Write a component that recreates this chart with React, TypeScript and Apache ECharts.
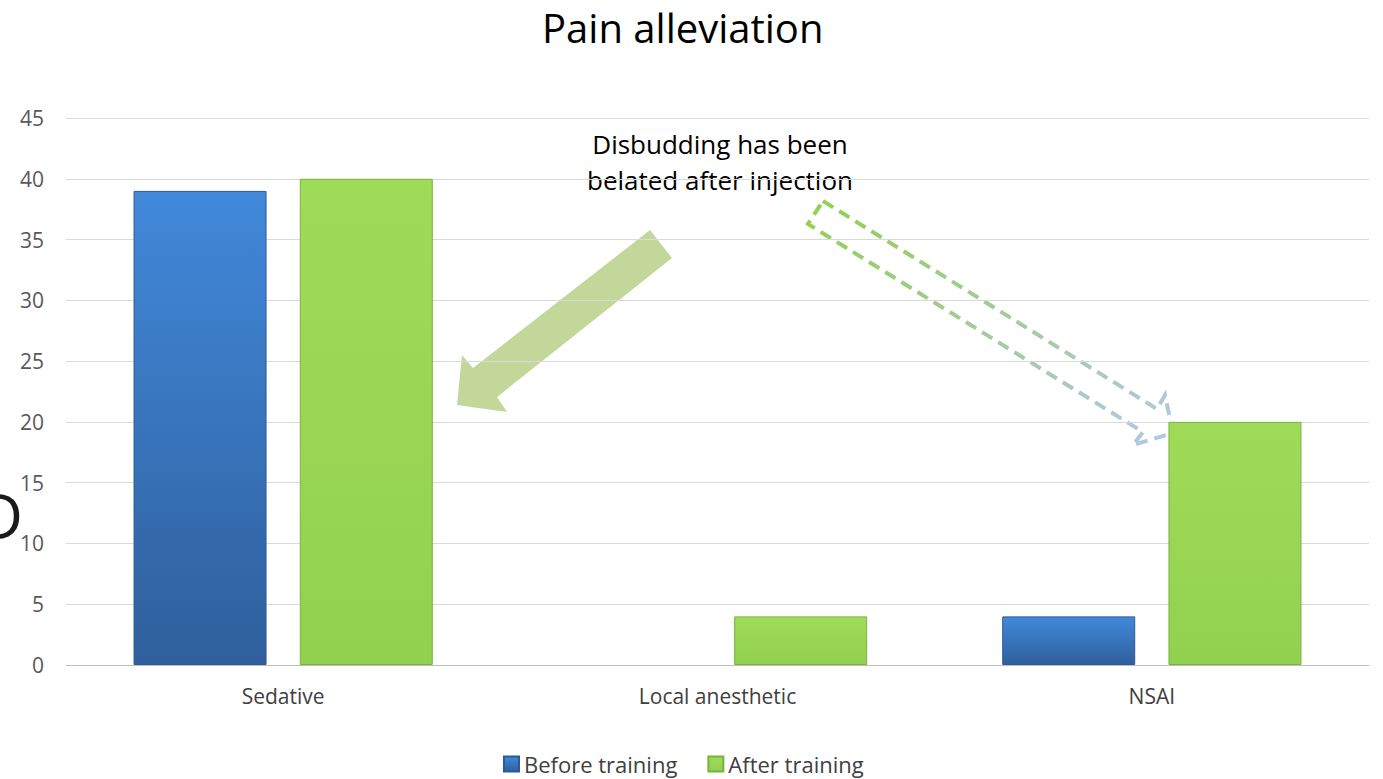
import React, { useEffect, useRef } from "react";
import * as echarts from "echarts";

const categories = ["Sedative", "Local anesthetic", "NSAI"];
const beforeTraining = [39, 0, 4];
const afterTraining = [40, 4, 20];
const seriesNames = ["Before training", "After training"];
const titleText = "Pain alleviation";
const noteLines = ["Disbudding has been", "belated after injection"];

const FONT = "'Open Sans', 'Noto Sans', sans-serif";

export default function App() {
  const ref = useRef<HTMLDivElement>(null);
  useEffect(() => {
    if (!ref.current) return;
    const chart = echarts.init(ref.current, null, { renderer: "svg" });
    const blue = new echarts.graphic.LinearGradient(0, 0, 0, 1, [
      { offset: 0, color: "#4189da" },
      { offset: 1, color: "#2f5f9c" },
    ]);
    const green = new echarts.graphic.LinearGradient(0, 0, 0, 1, [
      { offset: 0, color: "#9edc58" },
      { offset: 1, color: "#92d050" },
    ]);
    const dashGrad = new echarts.graphic.LinearGradient(0, 0, 1, 1, [
      { offset: 0, color: "#92d050" },
      { offset: 1, color: "#b4c7e7" },
    ]);
    const toItems = (arr: number[]) =>
      arr.map((v) => (v === 0 ? { value: v, itemStyle: { borderWidth: 0 } } : v));
    chart.setOption({
      animation: false,
      backgroundColor: "#ffffff",
      title: {
        text: titleText,
        left: 537,
        top: 2,
        textStyle: { fontFamily: FONT, fontSize: 40, fontWeight: "normal", color: "#000000" },
      },
      legend: {
        bottom: -1,
        left: 498,
        itemWidth: 15,
        itemHeight: 15,
        itemGap: 30,
        icon: "rect",
        textStyle: { fontFamily: FONT, fontSize: 22, color: "#404040" },
        data: seriesNames,
      },
      grid: { left: 66, right: 14, top: 118, bottom: 114 },
      xAxis: {
        type: "category",
        data: categories,
        axisLine: { lineStyle: { color: "#bfbfbf", width: 1 } },
        axisTick: { show: false },
        axisLabel: { fontFamily: FONT, fontSize: 21, color: "#404040", margin: 20 },
      },
      yAxis: {
        type: "value",
        min: 0,
        max: 45,
        interval: 5,
        axisLine: { show: false },
        axisTick: { show: false },
        splitLine: { lineStyle: { color: "#d9d9d9" } },
        axisLabel: { fontFamily: FONT, fontSize: 21, color: "#595959", margin: 22 },
      },
      series: [
        {
          name: seriesNames[0],
          type: "bar",
          data: toItems(beforeTraining),
          barWidth: 133,
          barGap: "25%",
          itemStyle: { color: blue, borderColor: "#2b5a94", borderWidth: 1 },
        },
        {
          name: seriesNames[1],
          type: "bar",
          data: toItems(afterTraining),
          barWidth: 133,
          itemStyle: { color: green, borderColor: "#79b23e", borderWidth: 1 },
        },
      ],
      graphic: [
        {
          type: "text",
          x: -22,
          y: 484,
          style: { text: "D", font: `62px ${FONT}`, fill: "#1a1a1a" },
        },
        {
          type: "text",
          x: 720,
          y: 126,
          style: {
            text: noteLines.join("\n"),
            font: `26px ${FONT}`,
            fill: "#000000",
            align: "center",
            lineHeight: 36,
          },
        },
        {
          type: "polygon",
          shape: {
            points: [
              [650, 230],
              [672, 258],
              [497, 397],
              [507, 412],
              [457, 405],
              [462, 355],
              [473, 368],
            ],
          },
          style: { fill: "#c4d79b" },
        },
        {
          type: "polygon",
          shape: {
            points: [
              [823, 201],
              [1157, 409],
              [1165, 395],
              [1173, 433],
              [1133, 445],
              [1143, 432],
              [808, 224],
            ],
          },
          style: { fill: "none", stroke: dashGrad, lineWidth: 4, lineDash: [12, 7] },
        },
      ],
    });
    return () => chart.dispose();
  }, []);
  return (
    <div
      ref={ref}
      style={{ position: "fixed", left: 0, top: 0, width: 1383, height: 779 }}
    />
  );
}
